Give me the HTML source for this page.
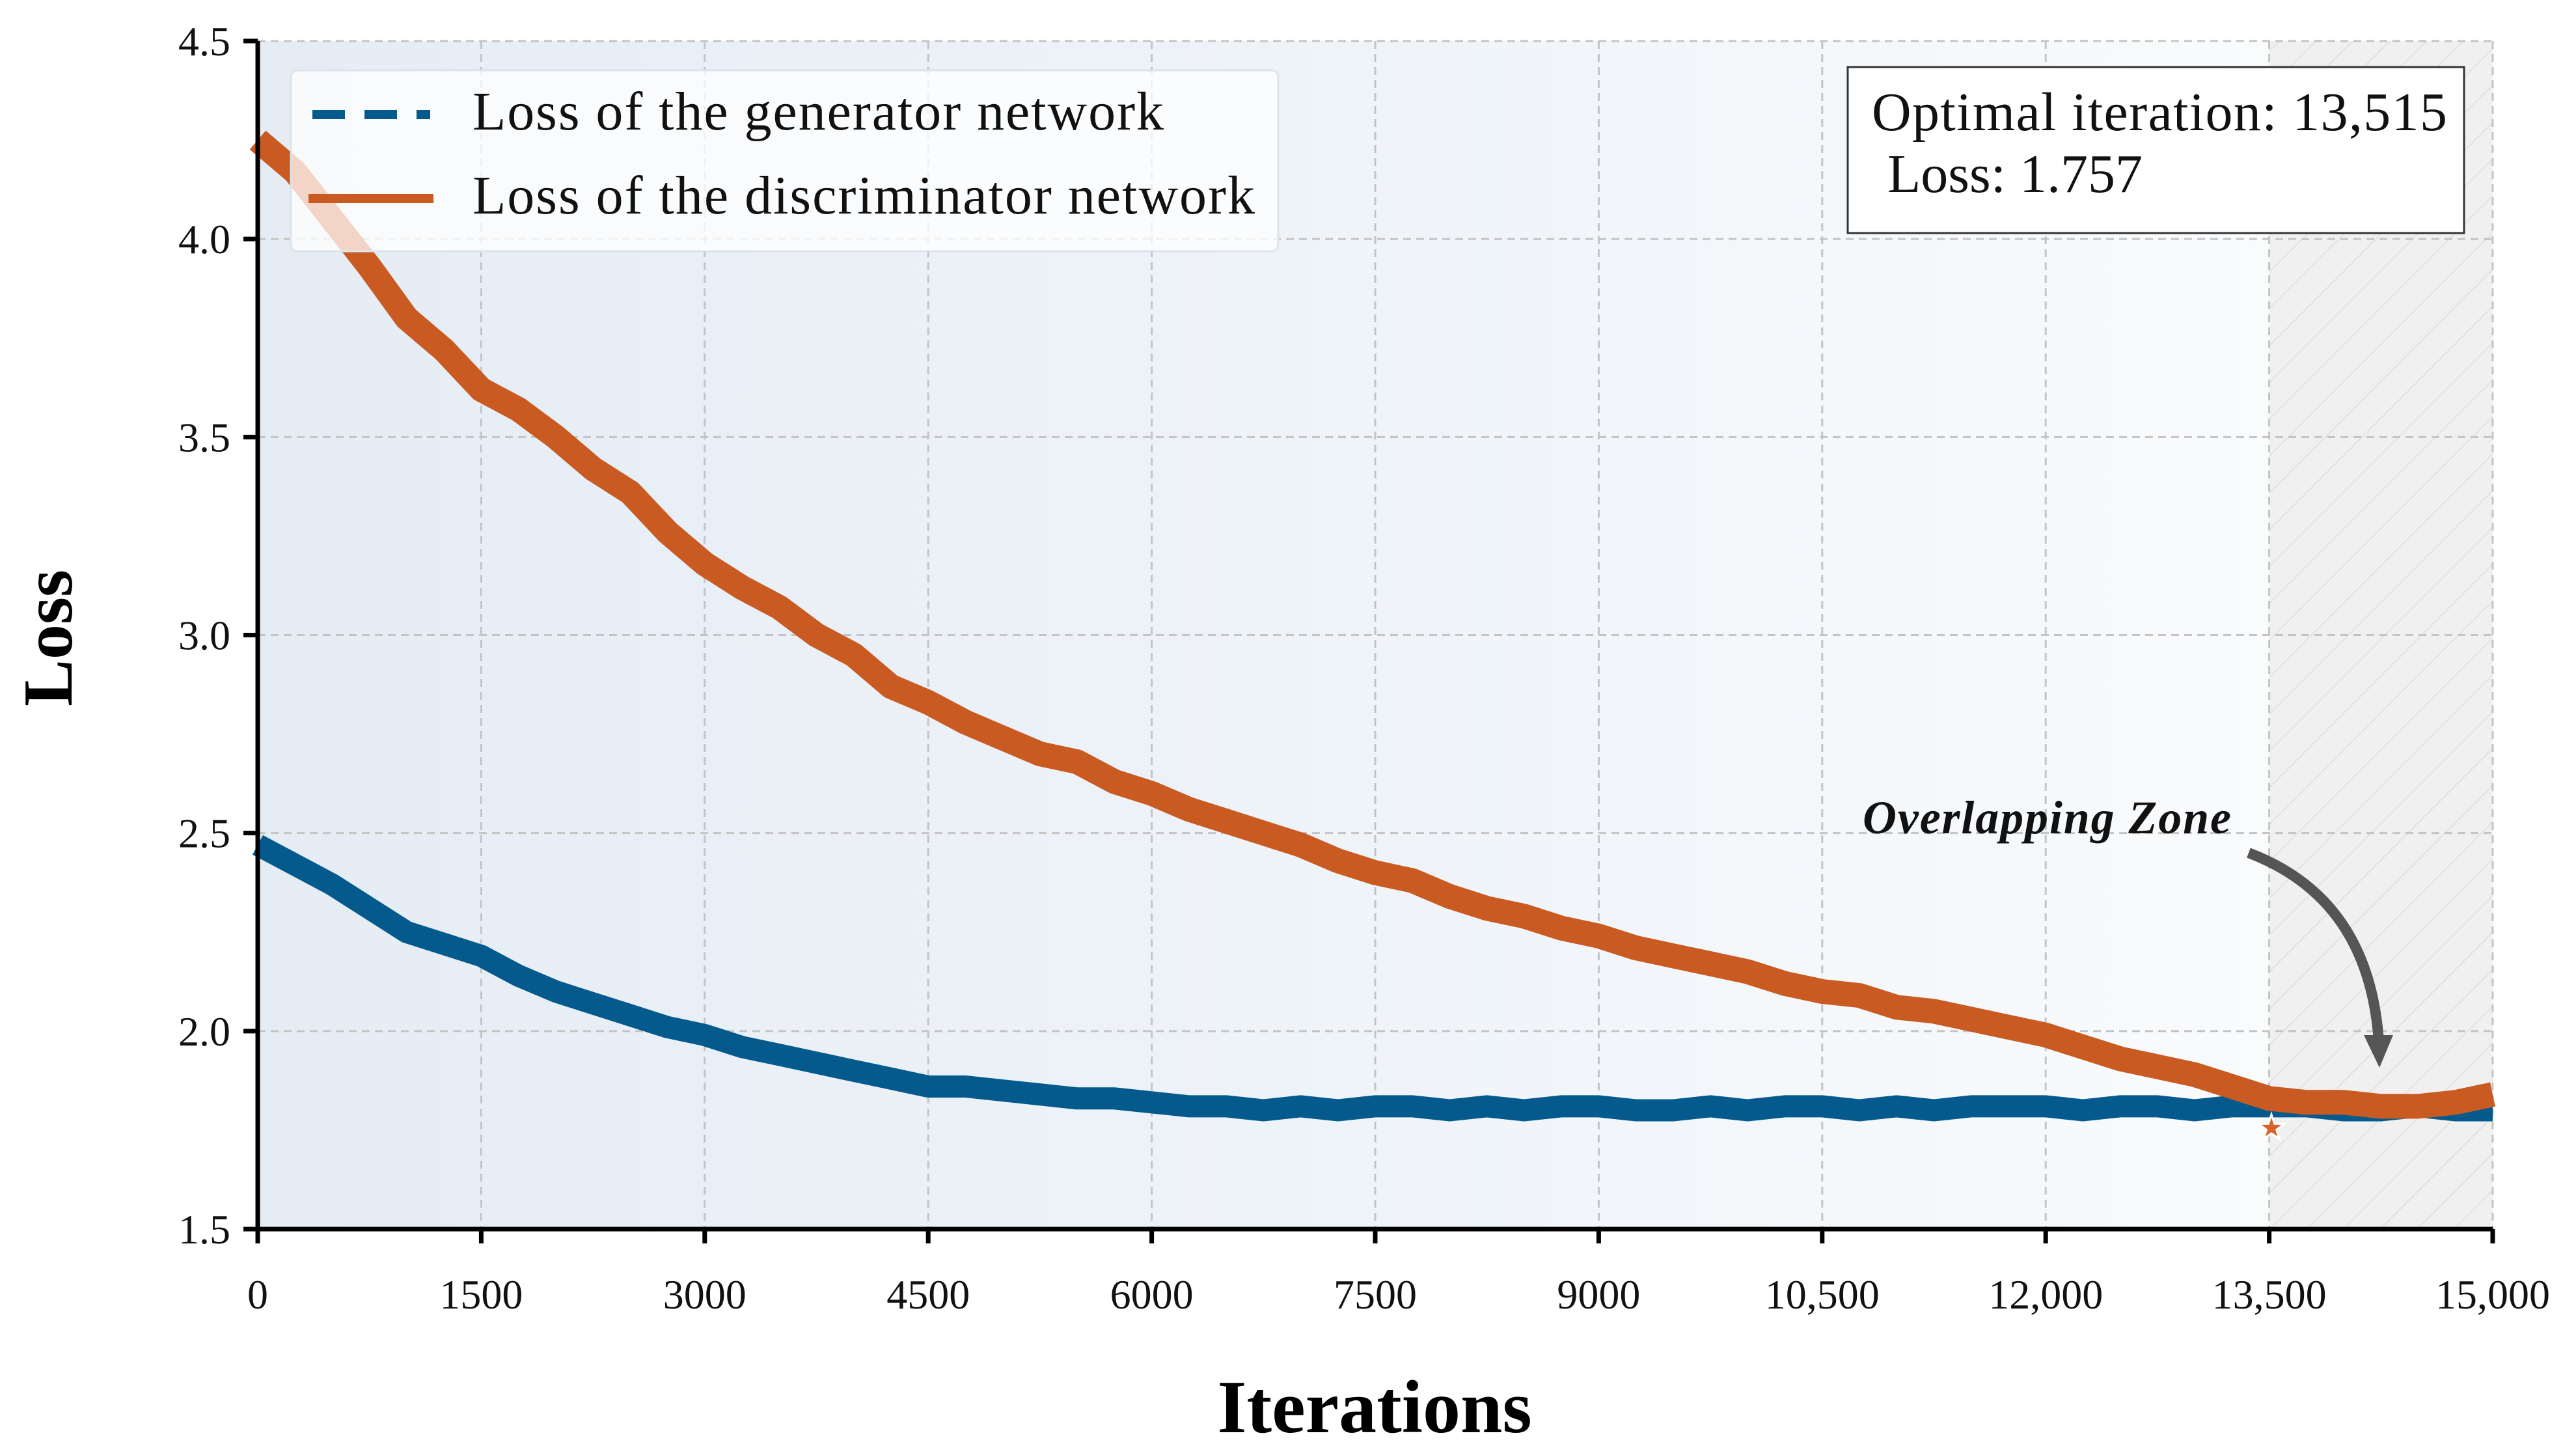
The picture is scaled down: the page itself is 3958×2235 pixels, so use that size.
<!DOCTYPE html>
<html><head><meta charset="utf-8"><style>
html,body{margin:0;padding:0;background:#fff;}
svg{display:block;font-family:"Liberation Serif",serif;}
</style></head><body>
<svg id="chart" width="3958" height="2235" viewBox="0 0 3958 2235" xmlns="http://www.w3.org/2000/svg">
<defs>
<linearGradient id="bg" x1="0" x2="1" y1="0" y2="0">
<stop offset="0" stop-color="#e5ecf4"/><stop offset="0.5" stop-color="#eef3f8"/><stop offset="1" stop-color="#f9fbfd"/>
</linearGradient>
<pattern id="hatch" width="40" height="40" patternUnits="userSpaceOnUse" patternTransform="rotate(45)">
<rect width="40" height="40" fill="#f0f0f0"/><line x1="0" y1="0" x2="0" y2="40" stroke="#e2e2e2" stroke-width="4"/>
</pattern>
</defs>
<g id="plot"></g>
</svg>
<script>
const xTicks=[0,1500,3000,4500,6000,7500,9000,10500,12000,13500,15000];
const xTickLabels=["0","1500","3000","4500","6000","7500","9000","10,500","12,000","13,500","15,000"];
const yTicks=[1.5,2.0,2.5,3.0,3.5,4.0,4.5];
const yTickLabels=["1.5","2.0","2.5","3.0","3.5","4.0","4.5"];
const iterations=[0,250,500,750,1000,1250,1500,1750,2000,2250,2500,2750,3000,3250,3500,3750,4000,4250,4500,4750,5000,5250,5500,5750,6000,6250,6500,6750,7000,7250,7500,7750,8000,8250,8500,8750,9000,9250,9500,9750,10000,10250,10500,10750,11000,11250,11500,11750,12000,12250,12500,12750,13000,13250,13500,13750,14000,14250,14500,14750,15000];
const discLoss=[4.25,4.17,4.05,3.93,3.80,3.72,3.62,3.57,3.50,3.42,3.36,3.26,3.18,3.12,3.07,3.00,2.95,2.87,2.83,2.78,2.74,2.70,2.68,2.63,2.60,2.56,2.53,2.50,2.47,2.43,2.40,2.38,2.34,2.31,2.29,2.26,2.24,2.21,2.19,2.17,2.15,2.12,2.10,2.09,2.06,2.05,2.03,2.01,1.99,1.96,1.93,1.91,1.89,1.86,1.83,1.82,1.82,1.81,1.81,1.82,1.84];
const genLoss=[2.47,2.42,2.37,2.31,2.25,2.22,2.19,2.14,2.10,2.07,2.04,2.01,1.99,1.96,1.94,1.92,1.90,1.88,1.86,1.86,1.85,1.84,1.83,1.83,1.82,1.81,1.81,1.80,1.81,1.80,1.81,1.81,1.80,1.81,1.80,1.81,1.81,1.80,1.80,1.81,1.80,1.81,1.81,1.80,1.81,1.80,1.81,1.81,1.81,1.80,1.81,1.81,1.80,1.81,1.81,1.81,1.80,1.80,1.81,1.80,1.80];
const optimalIter=[13515];
const optimalLoss=[1.757];

const NS="http://www.w3.org/2000/svg";
const X0=396,X1=3830,Y0=1888,Y1=63;
const xMin=0,xMax=15000,yMin=1.5,yMax=4.5;
function sx(v){return X0+(v-xMin)/(xMax-xMin)*(X1-X0);}
function sy(v){return Y0-(v-yMin)/(yMax-yMin)*(Y0-Y1);}
const g=document.getElementById('plot');
function mk(tag,attrs,parent){const e=document.createElementNS(NS,tag);for(const k in attrs)e.setAttribute(k,attrs[k]);(parent||g).appendChild(e);return e;}

let bg=mk('rect',{x:X0,y:Y1,width:sx(13500)-X0,height:Y0-Y1,fill:'url(#bg)'});


let hz=mk('rect',{x:sx(13500),y:Y1,width:X1-sx(13500),height:Y0-Y1,fill:'url(#hatch)'});



xTicks.forEach((t,i)=>{
 let gl=mk('line',{x1:sx(t),x2:sx(t),y1:Y1,y2:Y0,stroke:'#c4c4c4','stroke-width':3,'stroke-dasharray':'12 8'});
 
 
 let tk=mk('line',{x1:sx(t),x2:sx(t),y1:Y0,y2:Y0+22,stroke:'#000','stroke-width':7});
 
 
 let tl=mk('text',{x:sx(t),y:Y0+122,'text-anchor':'middle','font-size':64,fill:'#111'});
 tl.textContent=xTickLabels[i];
 
 
});
yTicks.forEach((t,i)=>{
 let gl=mk('line',{x1:X0,x2:X1,y1:sy(t),y2:sy(t),stroke:'#c4c4c4','stroke-width':3,'stroke-dasharray':'12 8'});
 
 
 let tk=mk('line',{x1:X0-22,x2:X0,y1:sy(t),y2:sy(t),stroke:'#000','stroke-width':7});
 
 
 let tl=mk('text',{x:X0-42,y:sy(t)+22,'text-anchor':'end','font-size':64,fill:'#111'});
 tl.textContent=yTickLabels[i];
 
 
});

function pathOf(ys){return iterations.map((v,i)=>(i?'L':'M')+sx(v).toFixed(1)+' '+sy(ys[i]).toFixed(1)).join(' ');}
let gp=mk('path',{d:pathOf(genLoss),fill:'none',stroke:'#045a8d','stroke-width':34,'stroke-linejoin':'round'});


let dp=mk('path',{d:pathOf(discLoss),fill:'none',stroke:'#c95a22','stroke-width':38,'stroke-linejoin':'round'});



optimalIter.forEach((it,i)=>{
 let st=mk('text',{x:sx(it),y:sy(optimalLoss[i])+18,'text-anchor':'middle','font-size':52,fill:'#d9622b',stroke:'#fff','stroke-width':3});
 st.textContent='★';
 
 
});

let ax=mk('line',{x1:X0,x2:X0,y1:Y1,y2:Y0+3,stroke:'#000','stroke-width':7});


let axx=mk('line',{x1:X0-3,x2:X1,y1:Y0,y2:Y0,stroke:'#000','stroke-width':7});



let xt=mk('text',{x:2112,y:2200,'text-anchor':'middle','font-size':116,'font-weight':'bold',fill:'#000'});
xt.textContent='Iterations';


let yt=mk('text',{x:0,y:0,'text-anchor':'middle','font-size':108,'font-weight':'bold',fill:'#000',transform:'translate(110 980) rotate(-90)'});
yt.textContent='Loss';



// legend
let lg=mk('g',{});


let lb=mk('rect',{x:447,y:108,width:1517,height:278,rx:10,fill:'#ffffff','fill-opacity':0.75,stroke:'#dde3ea','stroke-width':3},lg);


let l1=mk('line',{x1:480,x2:661,y1:176,y2:176,stroke:'#045a8d','stroke-width':14,'stroke-dasharray':'50 30'},lg);


let t1=mk('text',{x:726,y:199,'font-size':84,fill:'#111',textLength:1062},lg);
t1.textContent='Loss of the generator network';


let l2=mk('line',{x1:474,x2:666,y1:305,y2:305,stroke:'#c95a22','stroke-width':14},lg);


let t2=mk('text',{x:726,y:328,'font-size':84,fill:'#111',textLength:1202},lg);
t2.textContent='Loss of the discriminator network';



// annotation box
let ab=mk('rect',{x:2839,y:103,width:947,height:255,fill:'#fff',stroke:'#333','stroke-width':3});


let a1=mk('text',{x:2876,y:200,'font-size':84,fill:'#111',textLength:884});
a1.textContent='Optimal iteration: 13,515';


let a2=mk('text',{x:2900,y:295,'font-size':84,fill:'#111'});
a2.textContent='Loss: 1.757';



let oz=mk('text',{x:2862,y:1280,'font-size':72,'font-weight':'bold','font-style':'italic',fill:'#111',textLength:566});
oz.textContent='Overlapping Zone';


let ar=mk('path',{d:'M3455 1310 Q3640 1380 3655 1600',fill:'none',stroke:'#555','stroke-width':16});


let ah=mk('path',{d:'M3632 1590 L3677 1590 L3656 1640 Z',fill:'#555'});


</script>
</body></html>
